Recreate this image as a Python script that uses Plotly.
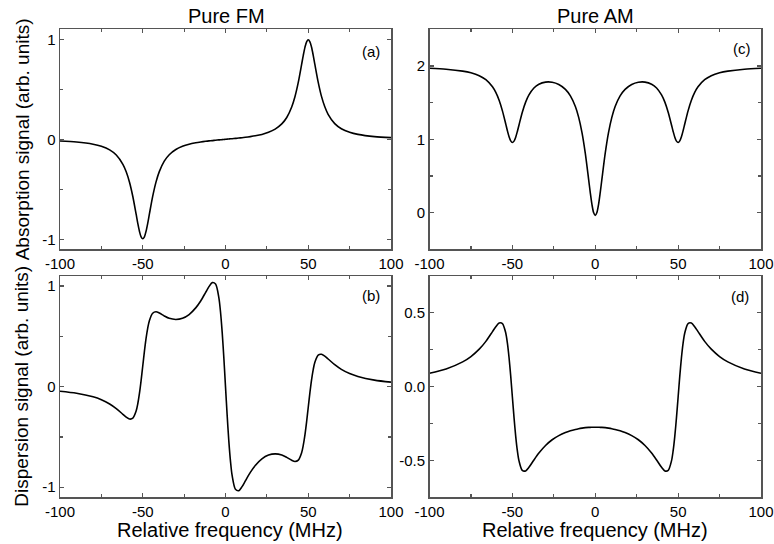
import plotly.graph_objects as go

# Relative frequency (MHz)
freq = [-100, -90, -80, -75, -70, -66, -62, -60, -58, -56, -54, -53, -52, -51, -50, -49, -48, -47, -46, -44,
        -42, -40, -37, -34, -30, -26, -22, -18, -15, -12, -10, -8, -6, -4, -3, -2, -1, 0,
        1, 2, 3, 4, 6, 8, 10, 12, 15, 18, 22, 26, 30, 34, 37, 40, 42, 44, 46, 47, 48, 49,
        50, 51, 52, 53, 54, 56, 58, 60, 62, 66, 70, 75, 80, 90, 100]

# (a) Pure FM - absorption signal
fm_absorption = [-0.017, -0.027, -0.049, -0.070, -0.106, -0.157, -0.250, -0.325, -0.429, -0.572, -0.749, -0.840,
                 -0.920, -0.975, -0.995, -0.975, -0.919, -0.840, -0.749, -0.571, -0.428, -0.323, -0.218, -0.154,
                 -0.102, -0.070, -0.049, -0.035, -0.027, -0.020, -0.016, -0.013, -0.009, -0.006, -0.005, -0.003,
                 -0.002, 0.000,
                 0.002, 0.003, 0.005, 0.006, 0.009, 0.013, 0.016, 0.020, 0.027, 0.035, 0.049, 0.070, 0.102,
                 0.154, 0.218, 0.323, 0.428, 0.571, 0.749, 0.840, 0.919, 0.975, 0.995, 0.975, 0.920, 0.840,
                 0.749, 0.572, 0.429, 0.325, 0.250, 0.157, 0.106, 0.070, 0.049, 0.027, 0.017]

# (b) Pure FM - dispersion signal
fm_dispersion = [-0.045, -0.065, -0.101, -0.130, -0.172, -0.218, -0.275, -0.303, -0.322, -0.314, -0.243, -0.170,
                 -0.068, 0.060, 0.205, 0.350, 0.479, 0.582, 0.656, 0.730, 0.744, 0.732, 0.703, 0.679, 0.668,
                 0.680, 0.717, 0.783, 0.852, 0.937, 0.994, 1.034, 1.020, 0.883, 0.740, 0.539, 0.285, 0.000,
                 -0.285, -0.539, -0.740, -0.883, -1.020, -1.034, -0.994, -0.937, -0.852, -0.783, -0.717, -0.680,
                 -0.668, -0.679, -0.703, -0.732, -0.744, -0.730, -0.656, -0.582, -0.479, -0.350, -0.205, -0.060,
                 0.068, 0.170, 0.243, 0.314, 0.322, 0.303, 0.275, 0.218, 0.172, 0.130, 0.101, 0.065, 0.045]

# (c) Pure AM - absorption signal
am_absorption = [1.969, 1.956, 1.930, 1.907, 1.868, 1.814, 1.717, 1.640, 1.533, 1.388, 1.209, 1.116, 1.035,
                 0.978, 0.957, 0.975, 1.029, 1.107, 1.196, 1.369, 1.507, 1.606, 1.700, 1.751, 1.780, 1.778,
                 1.748, 1.681, 1.592, 1.447, 1.299, 1.091, 0.807, 0.453, 0.272, 0.112, 0.002, -0.038,
                 0.002, 0.112, 0.272, 0.453, 0.807, 1.091, 1.299, 1.447, 1.592, 1.681, 1.748, 1.778, 1.780,
                 1.751, 1.700, 1.606, 1.507, 1.369, 1.196, 1.107, 1.029, 0.975, 0.957, 0.978, 1.035, 1.116,
                 1.209, 1.388, 1.533, 1.640, 1.717, 1.814, 1.868, 1.907, 1.930, 1.956, 1.969]

# (d) Pure AM - dispersion signal
am_dispersion = [0.091, 0.120, 0.168, 0.204, 0.254, 0.307, 0.373, 0.406, 0.431, 0.428, 0.364, 0.295, 0.196,
                 0.071, -0.070, -0.210, -0.335, -0.434, -0.503, -0.568, -0.571, -0.547, -0.497, -0.450,
                 -0.399, -0.360, -0.332, -0.311, -0.299, -0.290, -0.285, -0.281, -0.278, -0.276, -0.276,
                 -0.275, -0.275, -0.275,
                 -0.275, -0.275, -0.276, -0.276, -0.278, -0.281, -0.285, -0.290, -0.299, -0.311, -0.332,
                 -0.360, -0.399, -0.450, -0.497, -0.547, -0.571, -0.568, -0.503, -0.434, -0.335, -0.210,
                 -0.070, 0.071, 0.196, 0.295, 0.364, 0.428, 0.431, 0.406, 0.373, 0.307, 0.254, 0.204, 0.168,
                 0.120, 0.091]

# Tick labels
x_tick_vals = [-100, -50, 0, 50, 100]
x_tick_text = ["-100", "-50", "0", "50", "100"]
x_minor_vals = [-75, -25, 25, 75]
fm_y_tick_vals = [-1, 0, 1]
fm_y_tick_text = ["-1", "0", "1"]
fm_y_minor_vals = [-0.5, 0.5]
amc_y_tick_vals = [0, 1, 2]
amc_y_tick_text = ["0", "1", "2"]
amc_y_minor_vals = [-0.5, 0.5, 1.5, 2.5]
amd_y_tick_vals = [-0.5, 0.0, 0.5]
amd_y_tick_text = ["-0.5", "0.0", "0.5"]
amd_y_minor_vals = [-0.75, -0.25, 0.25, 0.75]

col_titles = ["Pure FM", "Pure AM"]
panel_labels = ["(a)", "(b)", "(c)", "(d)"]
x_title = "Relative frequency (MHz)"
y_titles = ["Absorption signal (arb. units)", "Dispersion signal (arb. units)"]

W, H = 774, 544
FONT = "Liberation Sans, Arial, Helvetica, sans-serif"
FRAME = "#555555"


def px_x(p):
    return p / W


def px_y(p):
    return 1 - p / H


fig = go.Figure()

panels = [
    ("x", "y", fm_absorption),
    ("x2", "y2", fm_dispersion),
    ("x3", "y3", am_absorption),
    ("x4", "y4", am_dispersion),
]
for xa, ya, vals in panels:
    fig.add_trace(go.Scatter(x=freq, y=vals, xaxis=xa, yaxis=ya, mode="lines",
                             line=dict(color="black", width=1.6, shape="spline", smoothing=0.8),
                             showlegend=False, hoverinfo="skip"))

# window-pixel boxes -> paper domains
left_x = [px_x(60), px_x(391)]
right_x = [px_x(429.5), px_x(761)]
top_y = [px_y(249.3), px_y(29.3)]
bot_y = [px_y(497.3), px_y(276)]


def xaxis(domain, anchor):
    return dict(domain=domain, anchor=anchor, range=[-100, 100], tickmode="array",
                tickvals=x_tick_vals, ticktext=x_tick_text, ticks="inside", ticklen=4,
                tickwidth=1.2, tickcolor=FRAME, showline=True, linecolor=FRAME, linewidth=1.5,
                mirror="ticks", showgrid=False, zeroline=False, automargin=False,
                ticklabeloverflow="allow",
                tickfont=dict(family=FONT, size=15, color="black"),
                minor=dict(tickmode="array", tickvals=x_minor_vals, ticks="inside", ticklen=3,
                           tickcolor=FRAME, tickwidth=1.2, showgrid=False))


def yaxis(domain, anchor, rng, tv, tt, mv):
    return dict(domain=domain, anchor=anchor, range=rng, tickmode="array",
                tickvals=tv, ticktext=tt, ticks="inside", ticklen=4,
                tickwidth=1.2, tickcolor=FRAME, showline=True, linecolor=FRAME, linewidth=1.5,
                mirror="ticks", showgrid=False, zeroline=False, automargin=False,
                tickfont=dict(family=FONT, size=15, color="black"),
                minor=dict(tickmode="array", tickvals=mv, ticks="inside", ticklen=3,
                           tickcolor=FRAME, tickwidth=1.2, showgrid=False))


fig.update_layout(
    width=W, height=H,
    margin=dict(l=0, r=0, t=0, b=0, pad=0, autoexpand=False),
    paper_bgcolor="white", plot_bgcolor="white",
    font=dict(family=FONT, color="black"),
    hovermode=False,
    xaxis=xaxis(left_x, "y"),
    yaxis=yaxis(top_y, "x", [-1.1, 1.1], fm_y_tick_vals, fm_y_tick_text, fm_y_minor_vals),
    xaxis2=xaxis(left_x, "y2"),
    yaxis2=yaxis(bot_y, "x2", [-1.1, 1.1], fm_y_tick_vals, fm_y_tick_text, fm_y_minor_vals),
    xaxis3=xaxis(right_x, "y3"),
    yaxis3=yaxis(top_y, "x3", [-0.5, 2.5], amc_y_tick_vals, amc_y_tick_text, amc_y_minor_vals),
    xaxis4=xaxis(right_x, "y4"),
    yaxis4=yaxis(bot_y, "x4", [-0.75, 0.75], amd_y_tick_vals, amd_y_tick_text, amd_y_minor_vals),
)

ann = []
# column titles and x-axis titles
title_x = [226.5, 595]
xtitle_x = [230, 595]
for i, t in enumerate(col_titles):
    ann.append(dict(text=t, x=px_x(title_x[i]), y=px_y(16.5), xref="paper", yref="paper",
                    xanchor="center", yanchor="middle", showarrow=False,
                    font=dict(family=FONT, size=20, color="black")))
    ann.append(dict(text=x_title, x=px_x(xtitle_x[i]), y=px_y(530), xref="paper", yref="paper",
                    xanchor="center", yanchor="middle", showarrow=False,
                    font=dict(family=FONT, size=20, color="black")))
# y titles
for i, t in enumerate(y_titles):
    yc = (top_y[0] + top_y[1]) / 2 if i == 0 else (bot_y[0] + bot_y[1]) / 2
    ann.append(dict(text=t, x=px_x(22), y=yc, xref="paper", yref="paper", textangle=-90,
                    xanchor="center", yanchor="middle", showarrow=False,
                    font=dict(family=FONT, size=19, color="black")))
# panel labels
label_pos = [(371, 51.5), (371, 295), (741.5, 48), (740, 296.5)]
for lab, (px, py) in zip(panel_labels, label_pos):
    ann.append(dict(text=lab, x=px_x(px), y=px_y(py), xref="paper", yref="paper",
                    xanchor="center", yanchor="middle", showarrow=False,
                    font=dict(family=FONT, size=15, color="black")))
fig.update_layout(annotations=ann)

# remove the default page margin so the 774x544 figure fills the window exactly
fig.write_html("out.html",
               config={"displayModeBar": False, "staticPlot": True},
               post_script="document.body.style.margin='0';document.body.style.overflow='hidden';")
